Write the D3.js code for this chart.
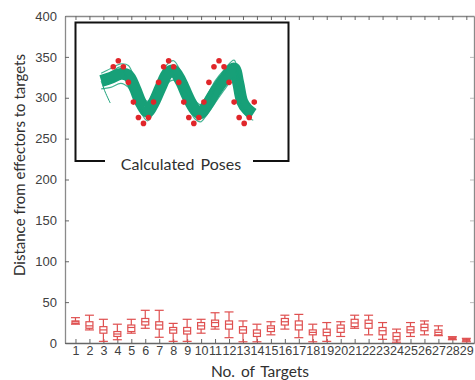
<!DOCTYPE html>
<html>
<head>
<meta charset="utf-8">
<script src="https://cdn.jsdelivr.net/npm/d3@7"></script>
<style>
  body { margin: 0; background: #fff; }
  svg { font-family: Lato, "Open Sans", sans-serif; }
</style>
</head>
<body>
<div id="chart"></div>
<script>
// box plot values per target
const targets = d3.range(1, 30);
const whiskerLow  = [23, 16, 2, 4, 12, 18, 7, 2, 2, 12, 17, 6.5, 1.5, 1.5, 10, 17, 6.5, 1.5, 2, 8, 18, 10, 4.5, 1, 8, 10, 9, 4, 1.5];
const boxLow      = [24, 18, 12, 8, 14, 22, 17, 12, 11, 17, 20, 17, 12, 8, 14, 22, 16, 10, 9, 13, 20, 18, 10, 3.7, 12.6, 15, 10, 4.5, 2.5];
const medians     = [26, 21, 16, 11, 19, 26, 22, 16, 14.6, 21, 25, 23, 16, 12, 18, 26, 22, 13, 13, 18, 24.5, 24, 15, 8, 16, 19, 13, 5.5, 3.5];
const boxHigh     = [27, 26, 20, 14, 22, 30, 26, 19, 19, 25, 28, 27, 20, 16, 21, 30, 27, 16, 17, 22, 29, 28, 19, 12.6, 20, 23, 16, 7, 4.5];
const whiskerHigh = [31, 34, 29, 23, 29, 40, 40, 24, 29, 29, 37, 38, 27, 23, 26, 34, 35, 23, 25, 26, 34, 34, 25, 17, 25, 27, 21, 7.7, 5.7];
const yTicks = [0, 50, 100, 150, 200, 250, 300, 350, 400];

// inset: target points and pose traces (pose units)
const targetHeights = [0.81, 1, 0.81, 0.31, -0.32, -0.81, -1, -0.81, -0.32, 0.31,
                       0.81, 1, 0.81, 0.31, -0.32, -0.81, -1, -0.81, -0.32, 0.31,
                       0.81, 1, 0.81, 0.31, -0.32, -0.81, -1, -0.81, -0.32];
const poseCentreU = [-2.4, -0.5, 1.5, 3.0, 4.3, 5.6, 6.8, 8.0, 9.4, 10.8, 12.0, 13.4, 14.8, 16.2, 17.3, 18.5, 20.2, 22.2, 24.0, 24.8, 25.6, 26.6, 27.8];
const poseCentreV = [0.35, 0.45, 0.58, 0.52, 0.12, -0.38, -0.62, -0.35, 0.15, 0.6, 0.68, 0.35, -0.15, -0.55, -0.68, -0.45, 0.0, 0.45, 0.75, 0.3, -0.3, -0.55, -0.7];
const poseUpperV  = [0.6, 0.75, 0.9, 0.85, 0.4, -0.05, -0.3, 0.0, 0.5, 0.9, 1.0, 0.65, 0.15, -0.25, -0.4, -0.15, 0.35, 0.75, 1.02, 0.6, -0.05, -0.3, -0.5];
const poseLowerV  = [0.1, 0.15, 0.28, 0.15, -0.2, -0.68, -0.92, -0.66, -0.2, 0.28, 0.38, 0.05, -0.48, -0.85, -0.95, -0.74, -0.35, 0.1, 0.45, 0.0, -0.55, -0.8, -0.9];
const poseWideV   = [0.45, 0.62, 0.8, 0.3, -0.1, -0.55, -0.75, -0.1, 0.35, 0.78, 0.55, 0.15, -0.05, -0.72, -0.5, -0.6, 0.15, 0.6, 0.88, 0.12, -0.42, -0.62, -0.62];
const poseSpurU = [-2.4, -1.6, -0.6];
const poseSpurV = [0.35, 0.0, -0.35];

const svg = d3.select('#chart').append('svg')
  .attr('width', 475)
  .attr('height', 380);

const x = d3.scaleLinear().domain([0.25, 29.55]).range([65, 474]);
const y = d3.scaleLinear().domain([0, 400]).range([343, 16]);

// axes / frame
const frameColor = '#8a8a8a';
const styleAxis = g => {
  g.select('.domain').attr('stroke', frameColor).attr('stroke-width', 1.3);
  g.selectAll('.tick line').attr('stroke', '#666');
  g.selectAll('.tick text').attr('fill', '#404040');
};

svg.append('g')
  .attr('transform', 'translate(65,0)')
  .call(d3.axisLeft(y).tickValues(yTicks).tickSizeInner(-4).tickSizeOuter(0).tickPadding(8))
  .style('font-size', '13px')
  .call(styleAxis);

svg.append('g')
  .attr('transform', 'translate(474,0)')
  .call(d3.axisRight(y).tickValues(yTicks).tickSizeInner(-4).tickSizeOuter(0).tickFormat(''))
  .call(styleAxis)
  .selectAll('.tick line').attr('stroke', '#bbb');

svg.append('g')
  .attr('transform', 'translate(0,16)')
  .call(d3.axisTop(x).tickValues(targets).tickSizeInner(-4).tickSizeOuter(0).tickFormat(''))
  .call(styleAxis);

svg.append('g')
  .attr('transform', 'translate(0,343)')
  .call(d3.axisBottom(x).tickValues(targets).tickSizeInner(-4).tickSizeOuter(0).tickPadding(3.5))
  .style('font-size', '12.5px')
  .call(styleAxis)
  .call(g => g.select('.domain').attr('stroke', '#666'));

// axis titles
svg.append('text')
  .attr('x', 260).attr('y', 377)
  .attr('text-anchor', 'middle')
  .attr('fill', '#303030')
  .style('font-size', '15.5px')
  .style('word-spacing', '2px')
  .text('No. of Targets');

svg.append('text')
  .attr('transform', 'translate(25,165) rotate(-90)')
  .attr('text-anchor', 'middle')
  .attr('fill', '#303030')
  .style('font-size', '15px')
  .text('Distance from effectors to targets');

// box plots
const boxColor = '#df4f4f';
const boxW = 7, capW = 9;
const boxes = svg.append('g').attr('stroke', boxColor).attr('stroke-width', 1.2).attr('fill', 'none');
targets.forEach((t, i) => {
  const cx = x(t);
  const g = boxes.append('g');
  g.append('line').attr('x1', cx).attr('x2', cx).attr('y1', y(whiskerHigh[i])).attr('y2', y(boxHigh[i]));
  g.append('line').attr('x1', cx).attr('x2', cx).attr('y1', y(boxLow[i])).attr('y2', y(whiskerLow[i]));
  g.append('line').attr('x1', cx - capW / 2).attr('x2', cx + capW / 2).attr('y1', y(whiskerHigh[i])).attr('y2', y(whiskerHigh[i]));
  g.append('line').attr('x1', cx - capW / 2).attr('x2', cx + capW / 2).attr('y1', y(whiskerLow[i])).attr('y2', y(whiskerLow[i]));
  g.append('rect')
    .attr('x', cx - boxW / 2).attr('width', boxW)
    .attr('y', y(boxHigh[i])).attr('height', y(boxLow[i]) - y(boxHigh[i]));
  g.append('line').attr('x1', cx - boxW / 2).attr('x2', cx + boxW / 2).attr('y1', y(medians[i])).attr('y2', y(medians[i]));
});

// inset panel
const insetL = 75.5, insetR = 288.5, insetT = 22.5, insetB = 161;
const px = d3.scaleLinear().domain([-7.5, 34.8]).range([insetL, insetR]);
const py = d3.scaleLinear().domain([-2.2, 2.22]).range([insetB, insetT]);

const inset = svg.append('g');
inset.append('rect').attr('x', insetL).attr('y', insetT).attr('width', insetR - insetL).attr('height', insetB - insetT).attr('fill', '#fff');
inset.append('path')
  .attr('d', `M105,${insetB}H${insetL}V${insetT}H${insetR}V${insetB}H253`)
  .attr('fill', 'none').attr('stroke', '#111').attr('stroke-width', 2);
inset.append('text')
  .attr('x', 181).attr('y', 169.5)
  .attr('text-anchor', 'middle')
  .attr('fill', '#303030')
  .style('font-size', '16px')
  .style('word-spacing', '2px')
  .text('Calculated Poses');

const poseColor = '#17a078';
const line = d3.line().x(d => px(d[0])).y(d => py(d[1])).curve(d3.curveCatmullRom);
const centre = poseCentreU.map((u, i) => [u, poseCentreV[i]]);
inset.append('path').datum(centre).attr('d', line)
  .attr('fill', 'none').attr('stroke', poseColor).attr('stroke-width', 12).attr('stroke-linejoin', 'round');
[poseUpperV, poseLowerV, poseWideV].forEach(vs => {
  inset.append('path').datum(poseCentreU.map((u, i) => [u, vs[i]])).attr('d', line)
    .attr('fill', 'none').attr('stroke', poseColor).attr('stroke-width', 1.2).attr('opacity', 0.8);
});
inset.append('path').datum(poseSpurU.map((u, i) => [u, poseSpurV[i]])).attr('d', line)
  .attr('fill', 'none').attr('stroke', poseColor).attr('stroke-width', 1);

inset.selectAll('circle.target')
  .data(targetHeights)
  .enter().append('circle')
  .attr('class', 'target')
  .attr('cx', (d, i) => px(i))
  .attr('cy', d => py(d))
  .attr('r', 2.8)
  .attr('fill', '#e0262a');
</script>
</body>
</html>
